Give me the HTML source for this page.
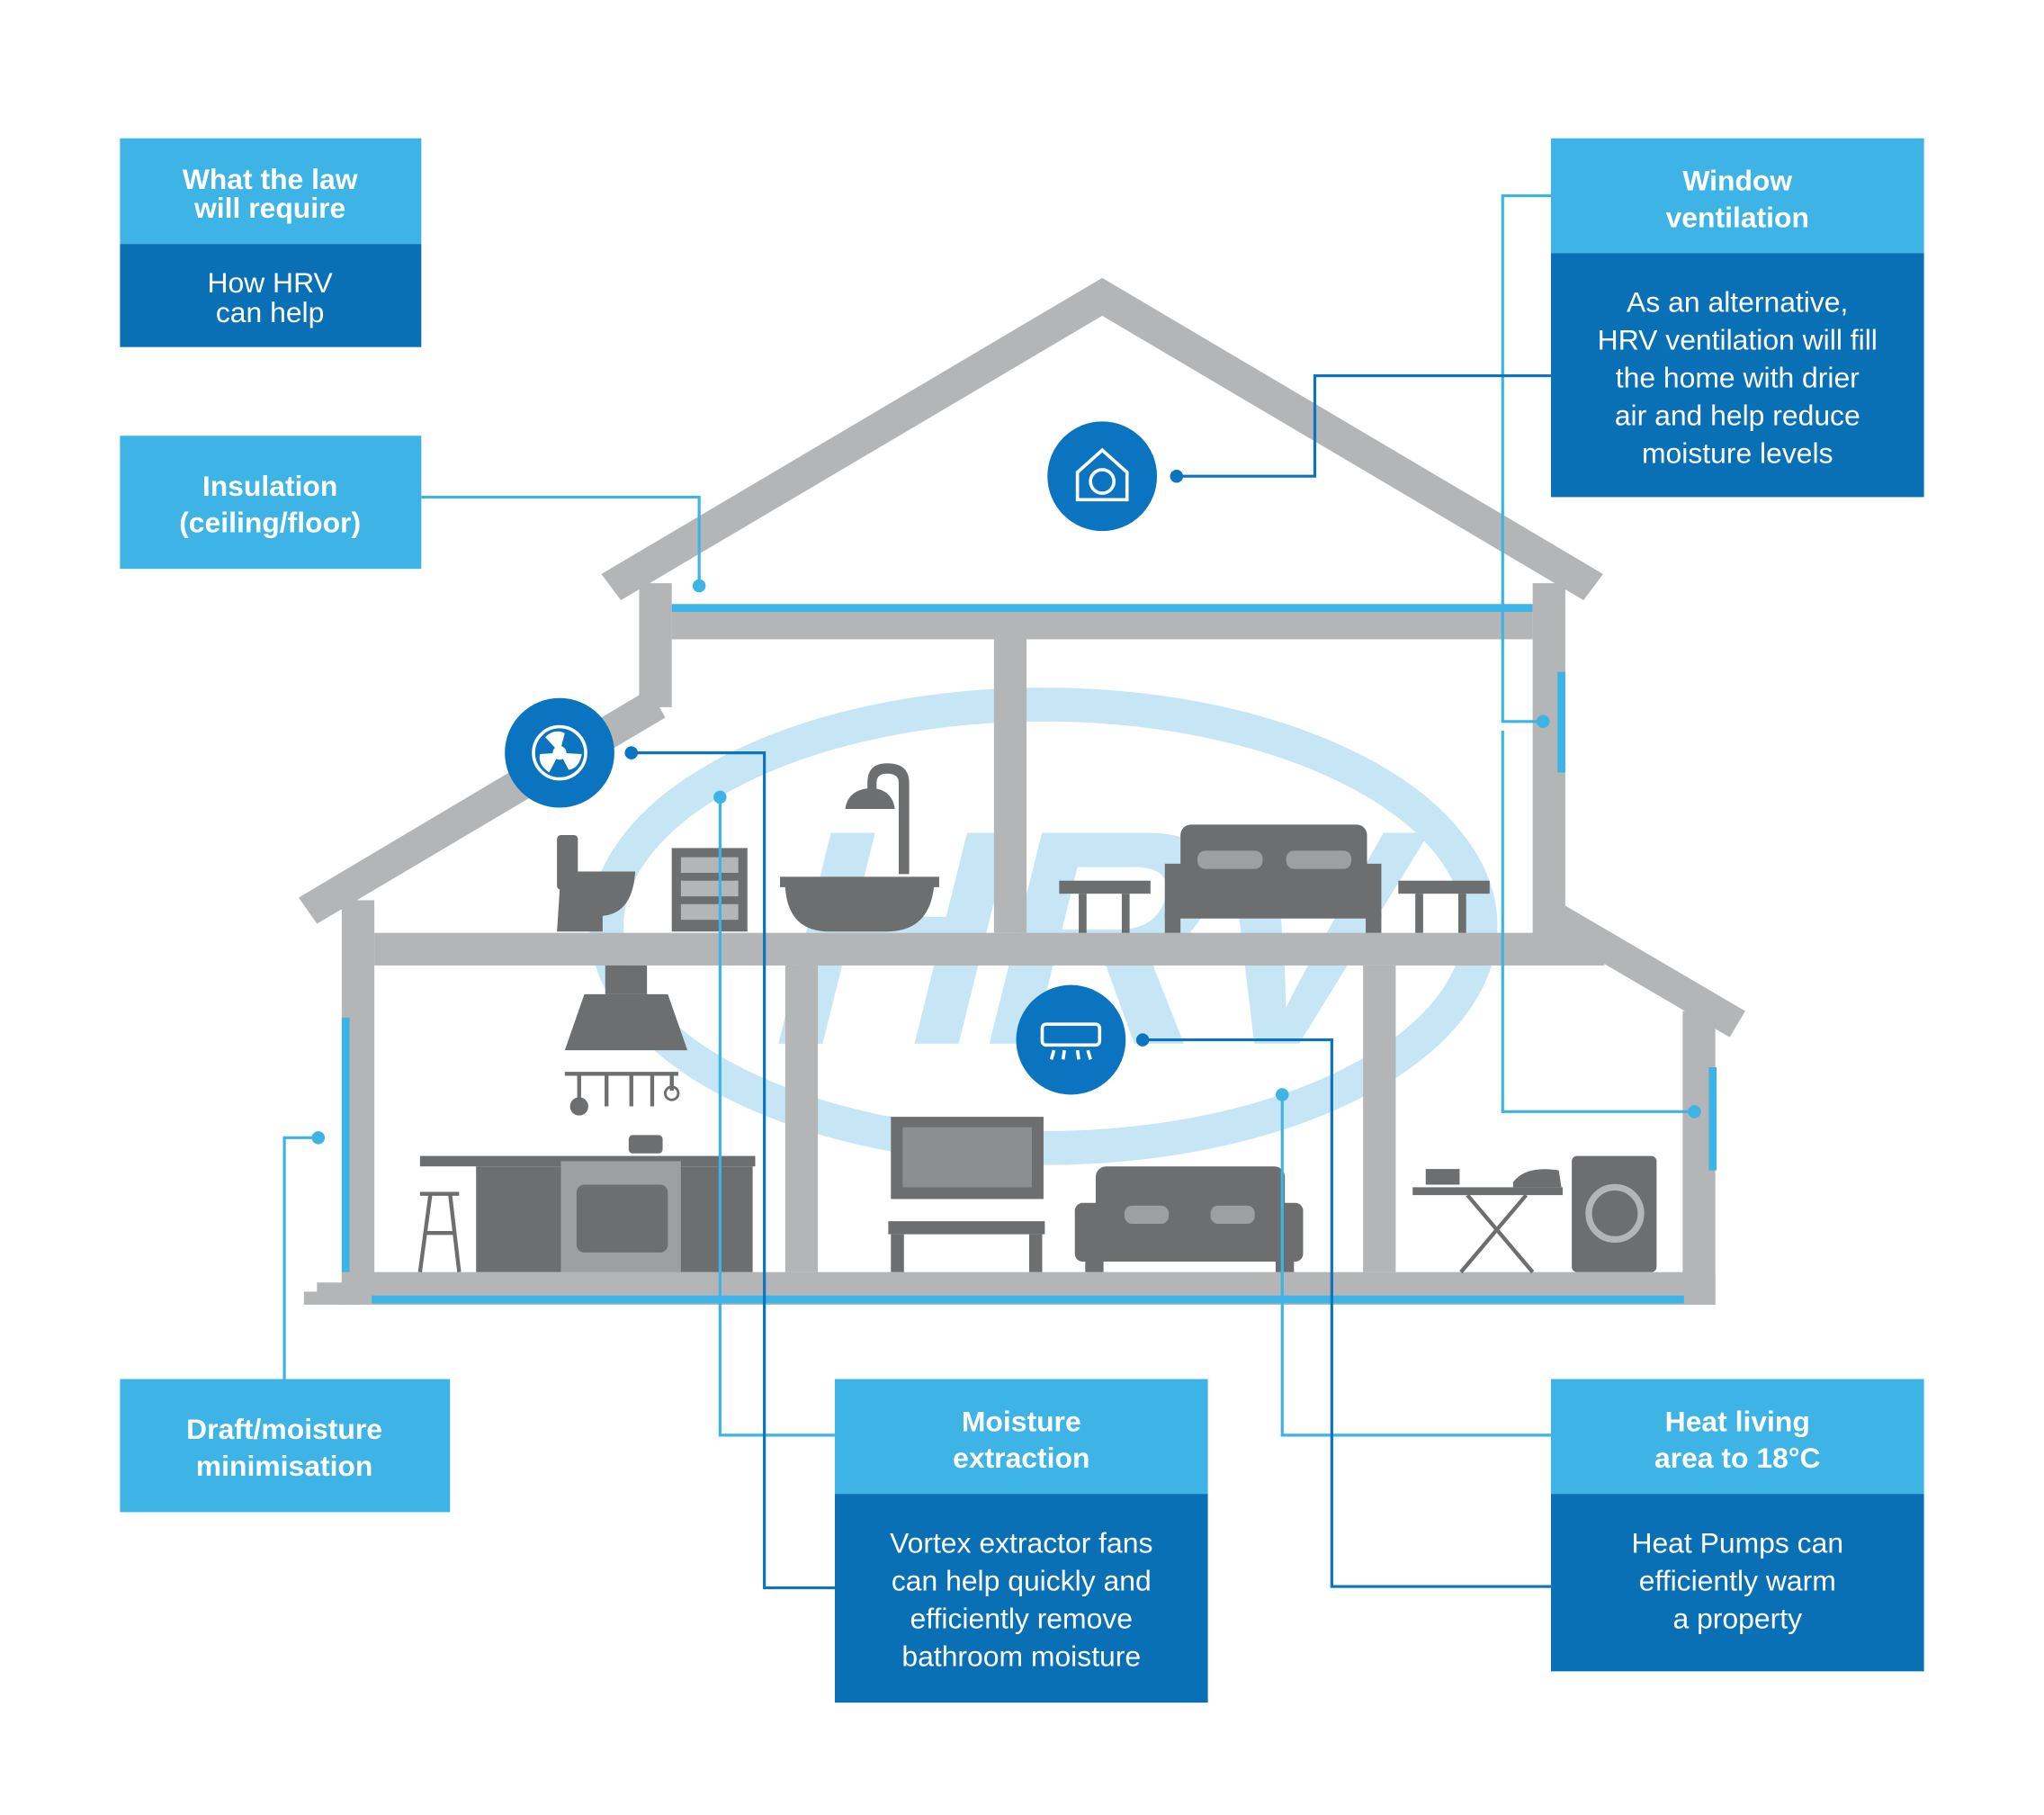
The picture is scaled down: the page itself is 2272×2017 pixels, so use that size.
<!DOCTYPE html>
<html><head><meta charset="utf-8"><style>
html,body{margin:0;padding:0;background:#fff;}
svg{display:block;}
text{font-family:"Liberation Sans",sans-serif;fill:#fff;text-anchor:middle;}
.b{font-weight:bold;font-size:22px;}
.r{font-size:22px;}
</style></head><body>
<svg width="2272" height="2017" viewBox="0 0 1567 1391" preserveAspectRatio="xMinYMin meet" xmlns="http://www.w3.org/2000/svg">
<rect width="1567" height="1391" fill="#fff"/>
<!-- HRV logo -->
<g>
<ellipse cx="800" cy="710" rx="335" ry="170" fill="none" stroke="#c6e6f6" stroke-width="26"/>
<text x="0" y="0" transform="translate(815,800) skewX(-14)" style="font-size:235px;font-weight:bold;fill:#c6e6f6;letter-spacing:-8px">HRV</text>
</g>
<!-- House structure -->
<g fill="#b3b5b6">
<polygon points="461,440 845,213 1229,440 1214,460 845,242 476,460"/>
<rect x="490" y="447" width="25" height="95"/>
<rect x="1175" y="447" width="25" height="270"/>
<rect x="515" y="468" width="660" height="22"/>
<polygon points="229,688 498,528 510,550 243,708"/>
<rect x="262" y="690" width="25" height="295"/>
<rect x="287" y="715" width="943" height="25"/>
<polygon points="1198,693 1338,775 1326,795 1198,720"/>
<rect x="1290" y="775" width="25" height="225"/>
<rect x="262" y="975" width="1053" height="25"/>
<rect x="233" y="990" width="40" height="10"/>
<rect x="243" y="983" width="30" height="10"/>
<rect x="762" y="490" width="25" height="225"/>
<rect x="602" y="740" width="25" height="235"/>
<rect x="1045" y="740" width="25" height="235"/>
</g>
<g stroke="#3db3e6" stroke-width="6" fill="none">
<line x1="515" y1="466" x2="1175" y2="466"/>
<line x1="285" y1="996" x2="1291" y2="996"/>
<line x1="265" y1="780" x2="265" y2="975"/>
<line x1="1197" y1="515" x2="1197" y2="592"/>
<line x1="1313" y1="818" x2="1313" y2="897"/>
</g>
<!-- furniture -->
<g fill="#6d6e70">
<rect x="427" y="640" width="16" height="42" rx="3"/>
<path d="M430 668 H487 Q485 700 462 702 L462 714 H427 Z"/>
<rect x="515" y="650" width="58" height="64"/>
<g fill="#b3b5b6"><rect x="522" y="657" width="44" height="12"/><rect x="522" y="675" width="44" height="12"/><rect x="522" y="693" width="44" height="12"/></g>
<path d="M598 672 H720 V680 H716 Q712 714 680 714 H636 Q604 714 602 680 H598 Z"/>
<path d="M697 670 V600 Q697 585 680 585 Q665 585 665 600 V607 H672 V600 Q672 593 680 593 Q689 593 689 600 V670 Z"/>
<path d="M648 620 Q650 605 668 604 Q684 605 686 620 Z"/>
<rect x="812" y="675" width="70" height="10"/><rect x="827" y="685" width="6" height="30"/><rect x="860" y="685" width="6" height="30"/>
<rect x="1072" y="675" width="70" height="10"/><rect x="1085" y="685" width="6" height="30"/><rect x="1118" y="685" width="6" height="30"/>
<rect x="905" y="632" width="143" height="40" rx="8"/>
<rect x="893" y="662" width="166" height="42"/><rect x="893" y="700" width="12" height="15"/><rect x="1047" y="700" width="12" height="15"/>
<rect x="918" y="652" width="50" height="14" rx="6" fill="#9d9fa1"/><rect x="986" y="652" width="50" height="14" rx="6" fill="#9d9fa1"/>
<rect x="464" y="740" width="32" height="22"/>
<polygon points="448,762 512,762 527,805 433,805"/>
<rect x="322" y="886" width="257" height="8"/>
<rect x="365" y="894" width="212" height="81"/>
<rect x="430" y="890" width="92" height="85" fill="#9d9fa1"/>
<rect x="442" y="908" width="70" height="52" rx="6"/>
<rect x="482" y="870" width="26" height="14" rx="3"/>
<rect x="683" y="856" width="117" height="63"/><rect x="692" y="864" width="99" height="46" fill="#8c8e90"/>
<rect x="681" y="936" width="120" height="10"/><rect x="683" y="946" width="10" height="29"/><rect x="789" y="946" width="10" height="29"/>
<rect x="840" y="894" width="145" height="50" rx="8"/><rect x="824" y="922" width="175" height="45" rx="6"/><rect x="832" y="965" width="14" height="10"/><rect x="978" y="965" width="14" height="10"/>
<rect x="862" y="924" width="34" height="14" rx="6" fill="#9d9fa1"/><rect x="928" y="924" width="34" height="14" rx="6" fill="#9d9fa1"/>
<rect x="1205" y="886" width="65" height="89" rx="4"/>
<circle cx="1238" cy="930" r="20" fill="none" stroke="#b3b5b6" stroke-width="5"/>
<rect x="1083" y="910" width="115" height="6"/>
<rect x="1093" y="896" width="26" height="12"/>
<path d="M1160 906 Q1170 893 1195 897 L1197 910 H1160 Z"/>
</g>
<g stroke="#6d6e70" stroke-width="3" fill="none">
<line x1="1125" y1="916" x2="1175" y2="975"/><line x1="1170" y1="916" x2="1120" y2="975"/>
<line x1="330" y1="915" x2="322" y2="975"/><line x1="345" y1="915" x2="352" y2="975"/><line x1="322" y1="915" x2="352" y2="915"/><line x1="326" y1="945" x2="349" y2="945"/>
<line x1="433" y1="823" x2="520" y2="823"/>
<line x1="444" y1="823" x2="444" y2="843"/><line x1="465" y1="823" x2="465" y2="848"/><line x1="484" y1="823" x2="484" y2="848"/><line x1="500" y1="823" x2="500" y2="848"/><line x1="515" y1="823" x2="515" y2="836"/>
</g>
<circle cx="444" cy="848" r="7" fill="#6d6e70"/><circle cx="515" cy="838" r="5" fill="none" stroke="#6d6e70" stroke-width="2"/>
<!-- icon circles -->
<g fill="#0a74c0">
<circle cx="845" cy="365" r="42"/><circle cx="429" cy="577" r="42"/><circle cx="821" cy="797" r="42"/>
</g>
<g stroke="#fff" stroke-width="2.5" fill="none">
<path d="M826 383 V362 L845 345 L864 362 V383 Z"/><circle cx="845" cy="369" r="9"/>
<circle cx="429" cy="577" r="20"/><circle cx="429" cy="577" r="4" fill="#fff"/>
<rect x="799" y="785" width="44" height="16" rx="3"/><line x1="808" y1="805" x2="806" y2="812"/><line x1="816" y1="805" x2="815" y2="812"/><line x1="826" y1="805" x2="827" y2="812"/><line x1="834" y1="805" x2="836" y2="812"/>
</g>
<g fill="#fff"><path d="M429 577 L418 565 Q425 558 433 562 Z"/><path d="M429 577 L446 578 Q444 589 436 590 Z"/><path d="M429 577 L421 592 Q412 586 414 578 Z"/></g>
<!-- connectors -->
<g fill="none" stroke-width="2.2">
<polyline stroke="#3db3e6" points="323,381 536,381 536,449"/>
<polyline stroke="#3db3e6" points="1189,150 1152,150 1152,553 1183,553"/>
<polyline stroke="#3db3e6" points="1152,560 1152,852 1299,852"/>
<polyline stroke="#0a74c0" points="902,365 1008,365 1008,288 1189,288"/>
<polyline stroke="#3db3e6" points="218,1057 218,872 244,872"/>
<polyline stroke="#3db3e6" points="640,1100 552,1100 552,611"/>
<polyline stroke="#0a74c0" points="484,577 586,577 586,1217 640,1217"/>
<polyline stroke="#3db3e6" points="1189,1100 983,1100 983,839"/>
<polyline stroke="#0a74c0" points="876,797 1021,797 1021,1216 1189,1216"/>
</g>
<g fill="#3db3e6"><circle cx="536" cy="449" r="5"/><circle cx="1183" cy="553" r="5"/><circle cx="1299" cy="852" r="5"/><circle cx="244" cy="872" r="5"/><circle cx="552" cy="611" r="5"/><circle cx="983" cy="839" r="5"/></g>
<g fill="#0a74c0"><circle cx="902" cy="365" r="5"/><circle cx="484" cy="577" r="5"/><circle cx="876" cy="797" r="5"/></g>
<!-- boxes -->
<rect x="92" y="106" width="231" height="81" fill="#3db3e6"/><rect x="92" y="187" width="231" height="79" fill="#0a70b6"/>
<text class="b" x="207" y="145">What the law</text><text class="b" x="207" y="167">will require</text>
<text class="r" x="207" y="224">How HRV</text><text class="r" x="207" y="247">can help</text>
<rect x="92" y="334" width="231" height="102" fill="#3db3e6"/>
<text class="b" x="207" y="380">Insulation</text><text class="b" x="207" y="408">(ceiling/floor)</text>
<rect x="1189" y="106" width="286" height="88" fill="#3db3e6"/><rect x="1189" y="194" width="286" height="187" fill="#0a70b6"/>
<text class="b" x="1332" y="146">Window</text><text class="b" x="1332" y="174">ventilation</text>
<text class="r" x="1332" y="239">As an alternative,</text><text class="r" x="1332" y="268">HRV ventilation will fill</text><text class="r" x="1332" y="297">the home with drier</text><text class="r" x="1332" y="326">air and help reduce</text><text class="r" x="1332" y="355">moisture levels</text>
<rect x="92" y="1057" width="253" height="102" fill="#3db3e6"/>
<text class="b" x="218" y="1103">Draft/moisture</text><text class="b" x="218" y="1131">minimisation</text>
<rect x="640" y="1057" width="286" height="88" fill="#3db3e6"/><rect x="640" y="1145" width="286" height="160" fill="#0a70b6"/>
<text class="b" x="783" y="1097">Moisture</text><text class="b" x="783" y="1125">extraction</text>
<text class="r" x="783" y="1190">Vortex extractor fans</text><text class="r" x="783" y="1219">can help quickly and</text><text class="r" x="783" y="1248">efficiently remove</text><text class="r" x="783" y="1277">bathroom moisture</text>
<rect x="1189" y="1057" width="286" height="88" fill="#3db3e6"/><rect x="1189" y="1145" width="286" height="136" fill="#0a70b6"/>
<text class="b" x="1332" y="1097">Heat living</text><text class="b" x="1332" y="1125">area to 18°C</text>
<text class="r" x="1332" y="1190">Heat Pumps can</text><text class="r" x="1332" y="1219">efficiently warm</text><text class="r" x="1332" y="1248">a property</text>
</svg>
</body></html>
